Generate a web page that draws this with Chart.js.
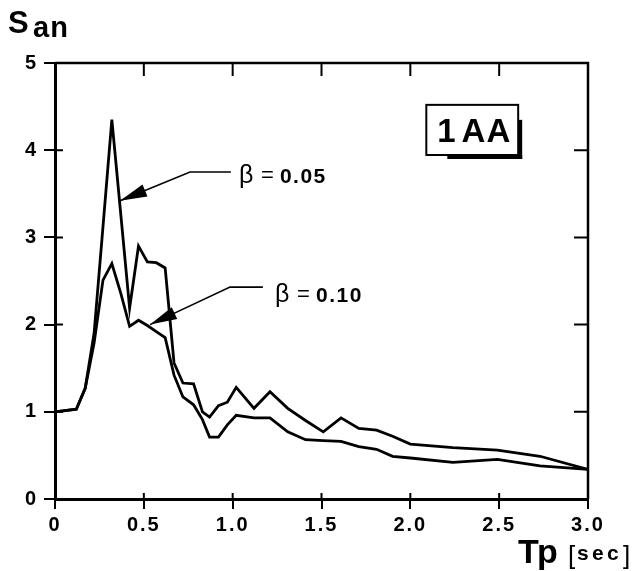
<!DOCTYPE html>
<html>
<head>
<meta charset="utf-8">
<script src="https://cdn.jsdelivr.net/npm/chart.js@4.4.0/dist/chart.umd.min.js"></script>
<style>
  html, body { margin: 0; padding: 0; background: #fff; }
  #chart { display: block; }
</style>
</head>
<body>
<canvas id="chart" width="634" height="571"></canvas>
<script>
'use strict';

//data (period Tp in sec, normalised spectrum San)

var periods = [0, 0.12, 0.17, 0.22, 0.27, 0.32, 0.37, 0.42, 0.47, 0.52, 0.57, 0.62, 0.67, 0.72, 0.78, 0.83, 0.87, 0.92, 0.97, 1.02,
               1.12, 1.21, 1.31, 1.41, 1.51, 1.61, 1.71, 1.81, 1.9, 2.0, 2.24, 2.49, 2.73, 3.0];
var san005 = [1.0, 1.03, 1.27, 1.9, 3.12, 4.35, 3.27, 2.19, 2.90, 2.72, 2.71, 2.65, 1.56, 1.33, 1.32, 1.0, 0.94, 1.07, 1.11, 1.28,
              1.04, 1.23, 1.04, 0.9, 0.77, 0.93, 0.81, 0.79, 0.72, 0.63, 0.59, 0.56, 0.49, 0.34];
var san010 = [1.0, 1.03, 1.27, 1.79, 2.51, 2.70, 2.36, 1.98, 2.05, 1.99, 1.92, 1.85, 1.42, 1.17, 1.08, 0.91, 0.71, 0.71, 0.85, 0.96,
              0.93, 0.93, 0.77, 0.68, 0.67, 0.66, 0.60, 0.57, 0.49, 0.47, 0.42, 0.455, 0.38, 0.34];
var xTicks = [0, 0.5, 1.0, 1.5, 2.0, 2.5, 3.0];
var yTicks = [0, 1, 2, 3, 4, 5];

var fontFamily = '"Liberation Sans", Arial, sans-serif';
var black = "rgb(000,000,000)";

function toPoints(ys) {
    return periods.map((p, i) => ({ x: p, y: ys[i] }));
}

//draw a string one glyph at a time with extra spacing
function spaced(ctx, txt, x, y, gap) {
    for (const ch of txt) {
        ctx.fillText(ch, x, y);
        x += ctx.measureText(ch).width + gap;
    }
}

//frame, inner ticks and the hand lettering
const decorations = {
    id: 'decorations',
    beforeDraw(chart) {
        //the old lettering is wide, open up the tick labels a bit
        chart.ctx.letterSpacing = '2px';
    },
    afterDraw(chart) {
        const ctx = chart.ctx;
        const a = chart.chartArea;
        const xs = chart.scales.x;
        const ys = chart.scales.y;
        const X = v => xs.getPixelForValue(v);
        const Y = v => ys.getPixelForValue(v);

        ctx.save();
        ctx.letterSpacing = '0px';
        ctx.strokeStyle = black;
        ctx.fillStyle = black;

        //top and right side of the frame
        ctx.lineWidth = 2.5;
        ctx.beginPath();
        ctx.moveTo(a.left, a.top);
        ctx.lineTo(a.right, a.top);
        ctx.lineTo(a.right, a.bottom);
        ctx.stroke();

        //ticks pointing into the plot
        ctx.lineWidth = 2;
        ctx.beginPath();
        xTicks.forEach(v => {
            ctx.moveTo(X(v), a.top); ctx.lineTo(X(v), a.top + 13);
            ctx.moveTo(X(v), a.bottom); ctx.lineTo(X(v), a.bottom - 6);
        });
        yTicks.forEach(v => {
            ctx.moveTo(a.right, Y(v)); ctx.lineTo(a.right - 14, Y(v));
            ctx.moveTo(a.left, Y(v)); ctx.lineTo(a.left + 8, Y(v));
        });
        ctx.stroke();

        //arrows to the curves
        function arrow(xEnd, xElbow, yLine, xTip, yTip) {
            const x0 = X(xEnd), x1 = X(xElbow), y1 = Y(yLine), x2 = X(xTip), y2 = Y(yTip);
            ctx.lineWidth = 1.6;
            ctx.beginPath();
            ctx.moveTo(x0, y1); ctx.lineTo(x1, y1); ctx.lineTo(x2, y2);
            ctx.stroke();
            const ang = Math.atan2(y1 - y2, x1 - x2);
            const len = 27, half = 6.5;
            const bx = x2 + Math.cos(ang) * len, by = y2 + Math.sin(ang) * len;
            ctx.beginPath();
            ctx.moveTo(x2, y2);
            ctx.lineTo(bx - Math.sin(ang) * half, by + Math.cos(ang) * half);
            ctx.lineTo(bx + Math.sin(ang) * half, by - Math.cos(ang) * half);
            ctx.closePath();
            ctx.fill();
        }
        arrow(0.99, 0.76, 3.75, 0.366, 3.42);
        arrow(1.17, 0.985, 2.43, 0.535, 2.0);

        //beta labels
        function beta(xv, yv, txt) {
            const x = X(xv), y = Y(yv);
            ctx.textBaseline = 'alphabetic';
            ctx.textAlign = 'left';
            ctx.font = '25px ' + fontFamily;
            ctx.fillText('\u03B2', x, y);
            ctx.font = '22px ' + fontFamily;
            ctx.fillText('=', x + 22, y - 1);
            ctx.font = 'bold 21px ' + fontFamily;
            spaced(ctx, txt, x + 41, y, 1.5);
        }
        beta(1.035, 3.62, '0.05');
        beta(1.238, 2.26, '0.10');

        //record label box with its shadow
        const bl = X(2.09), br = X(2.607), bt = Y(4.52), bb = Y(3.945);
        ctx.fillRect(bl + 21, bb, br - bl - 17, 4);
        ctx.fillRect(br, bt + 15, 4, bb - bt - 11);
        ctx.lineWidth = 2;
        ctx.strokeRect(bl, bt, br - bl, bb - bt);
        ctx.font = 'bold 33px ' + fontFamily;
        ctx.textAlign = 'center';
        ctx.fillText('1', bl + 20, bb - 13);
        ctx.fillText('A', bl + 47, bb - 13);
        ctx.fillText('A', bl + 72, bb - 13);

        //axis titles
        ctx.textAlign = 'left';
        ctx.font = 'bold 31px ' + fontFamily;
        ctx.fillText('S', 8, 33);
        ctx.font = 'bold 29px ' + fontFamily;
        spaced(ctx, 'an', 33, 37, 1);

        ctx.font = 'bold 34px ' + fontFamily;
        ctx.fillText('T', 518, 563);
        ctx.fillText('p', 537, 563);
        ctx.font = '26px ' + fontFamily;
        ctx.fillText('[', 568, 564);
        ctx.fillText(']', 623, 564);
        ctx.font = 'bold 21px ' + fontFamily;
        ctx.fillText('s', 577, 560);
        ctx.fillText('e', 592, 560);
        ctx.fillText('c', 607, 560);

        ctx.restore();
    }
};

const chartData = {
    datasets: [{
        label: 'beta = 0.05',
        data: toPoints(san005),
        borderColor: black,
        borderWidth: 2.8,
        pointRadius: 0,
        tension: 0,
        fill: false
    },
    {
        label: 'beta = 0.10',
        data: toPoints(san010),
        borderColor: black,
        borderWidth: 2.8,
        pointRadius: 0,
        tension: 0,
        fill: false
    }]
};

const chartConfig = {
    type: 'line',
    data: chartData,
    options: {
        responsive: false,
        animation: false,
        layout: { padding: { top: 63, right: 46, left: 0, bottom: 0 } },
        plugins: {
            legend: { display: false },
            tooltip: { enabled: false },
            title: { display: false }
        },
        scales: {
            x: {
                type: 'linear',
                min: 0,
                max: 3,
                afterBuildTicks: scale => { scale.ticks = xTicks.map(v => ({ value: v })); },
                afterFit: scale => { scale.height = 72; },
                ticks: {
                    color: black,
                    padding: 4,
                    maxRotation: 0,
                    autoSkip: false,
                    font: { family: fontFamily, size: 20, weight: 'bold' },
                    callback: v => v === 0 ? '0' : v.toFixed(1)
                },
                grid: { drawOnChartArea: false, drawTicks: true, tickLength: 10, color: black, lineWidth: 2 },
                border: { display: true, color: black, width: 3 }
            },
            y: {
                min: 0,
                max: 5,
                afterBuildTicks: scale => { scale.ticks = yTicks.map(v => ({ value: v })); },
                afterFit: scale => { scale.width = 55; },
                ticks: {
                    color: black,
                    padding: 6,
                    font: { family: fontFamily, size: 20, weight: 'bold' },
                    callback: v => String(v)
                },
                grid: { drawOnChartArea: false, drawTicks: true, tickLength: 11, color: black, lineWidth: 2 },
                border: { display: true, color: black, width: 3 }
            }
        }
    },
    plugins: [decorations]
};

window.onload = function () {
    new Chart(document.getElementById('chart'), chartConfig);
};
</script>
</body>
</html>
